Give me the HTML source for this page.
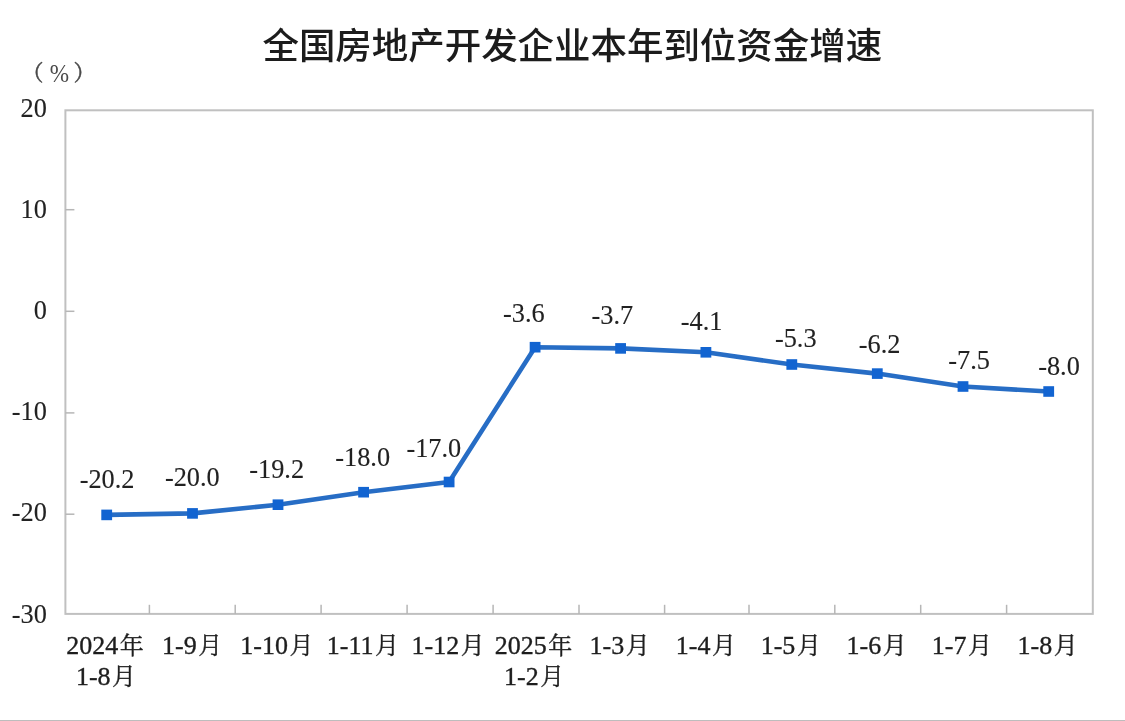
<!DOCTYPE html>
<html lang="zh-CN">
<head>
<meta charset="utf-8">
<title>全国房地产开发企业本年到位资金增速</title>
<style>
  html, body { margin: 0; padding: 0; background: #ffffff; }
  body { width: 1125px; height: 721px; overflow: hidden; position: relative; }
  svg { position: absolute; left: 0; top: 0; display: block; filter: blur(0.35px); }
  .title { font-family: "Liberation Sans", "Noto Sans CJK SC", sans-serif; font-size: 36.46px; font-weight: 500; fill: #1c1c1c; }
  .num { font-family: "Liberation Serif", "Noto Serif CJK SC", serif; font-size: 26.3px; fill: #222222; stroke: #222222; stroke-width: 0.12px; }
  .cat { font-family: "Liberation Serif", "Noto Serif CJK SC", serif; font-size: 26px; fill: #1e1e1e; }
  .cat { stroke: #1e1e1e; stroke-width: 0.35px; }
  .cj { font-size: 24px; }
  .unit { font-family: "Liberation Serif", "Noto Serif CJK SC", serif; font-size: 22px; fill: #4a4a4a; }
  .pct { font-family: "Liberation Serif", serif; font-size: 23.2px; }
  .par { stroke: #4a4a4a; stroke-width: 0.5px; }
  .axis { stroke: #c0c0c0; stroke-width: 2; fill: none; }
  .tick { stroke: #b6b6b6; stroke-width: 1.5; fill: none; }
  .bottombar { position: absolute; left: 0; top: 720px; width: 1125px; height: 1px; background: #bdbdbd; }
</style>
</head>
<body>
<svg width="1125" height="721" viewBox="0 0 1125 721">
  <rect x="0" y="0" width="1125" height="721" fill="#ffffff"/>

  <!-- title -->
  <text class="title" x="572.3" y="59.3" text-anchor="middle">全国房地产开发企业本年到位资金增速</text>

  <!-- unit -->
  <text class="unit par" x="32.4" y="79.7" text-anchor="middle">（</text>
  <text class="unit pct" transform="translate(59.3 81.9) scale(1 1.13)" text-anchor="middle">%</text>
  <text class="unit par" x="84.5" y="79.7" text-anchor="middle">）</text>

  <!-- plot frame -->
  <rect class="axis" x="65.4" y="110.3" width="1027.4" height="503.6"/>

  <!-- y ticks -->
  <g class="tick">
    <line x1="65.4" y1="209.7" x2="74.4" y2="209.7"/>
    <line x1="65.4" y1="311.3" x2="74.4" y2="311.3"/>
    <line x1="65.4" y1="412.9" x2="74.4" y2="412.9"/>
    <line x1="65.4" y1="514.2" x2="74.4" y2="514.2"/>
  </g>
  <!-- x ticks -->
  <g class="tick">
    <line x1="149.4" y1="604.8" x2="149.4" y2="613.9"/>
    <line x1="235.2" y1="604.8" x2="235.2" y2="613.9"/>
    <line x1="321.1" y1="604.8" x2="321.1" y2="613.9"/>
    <line x1="407.1" y1="604.8" x2="407.1" y2="613.9"/>
    <line x1="493.1" y1="604.8" x2="493.1" y2="613.9"/>
    <line x1="579.0" y1="604.8" x2="579.0" y2="613.9"/>
    <line x1="664.6" y1="604.8" x2="664.6" y2="613.9"/>
    <line x1="749.0" y1="604.8" x2="749.0" y2="613.9"/>
    <line x1="834.8" y1="604.8" x2="834.8" y2="613.9"/>
    <line x1="920.7" y1="604.8" x2="920.7" y2="613.9"/>
    <line x1="1006.6" y1="604.8" x2="1006.6" y2="613.9"/>
  </g>

  <!-- y labels -->
  <g class="num" text-anchor="end">
    <text x="46.8" y="116.9">20</text>
    <text x="46.8" y="218.4">10</text>
    <text x="46.8" y="318.7">0</text>
    <text x="46.8" y="419.6">-10</text>
    <text x="46.8" y="521.3">-20</text>
    <text x="46.8" y="623.3">-30</text>
  </g>

  <!-- series line -->
  <polyline fill="none" stroke="#276dc5" stroke-width="4.6" stroke-linejoin="round" stroke-linecap="round"
    points="106.7,514.9 192.5,513.4 278,504.7 363.6,492.2 449.1,482 535.1,347.2 620.6,348.4 705.9,352.3 791.8,364.5 877.3,373.6 963,386.5 1048.7,391.5"/>
  <g fill="#1264d1">
    <rect x="101.3" y="509.6" width="10.8" height="10.6"/>
    <rect x="187.1" y="508.1" width="10.8" height="10.6"/>
    <rect x="272.6" y="499.4" width="10.8" height="10.6"/>
    <rect x="358.2" y="486.9" width="10.8" height="10.6"/>
    <rect x="443.7" y="476.7" width="10.8" height="10.6"/>
    <rect x="529.7" y="341.9" width="10.8" height="10.6"/>
    <rect x="615.2" y="343.1" width="10.8" height="10.6"/>
    <rect x="700.5" y="347.0" width="10.8" height="10.6"/>
    <rect x="786.4" y="359.2" width="10.8" height="10.6"/>
    <rect x="871.9" y="368.3" width="10.8" height="10.6"/>
    <rect x="957.6" y="381.2" width="10.8" height="10.6"/>
    <rect x="1043.3" y="386.2" width="10.8" height="10.6"/>
  </g>

  <!-- data labels -->
  <g class="num" text-anchor="middle">
    <text x="107.1" y="488.0">-20.2</text>
    <text x="192.3" y="486.2">-20.0</text>
    <text x="276.7" y="478.1">-19.2</text>
    <text x="362.7" y="466.2">-18.0</text>
    <text x="433.8" y="456.5">-17.0</text>
    <text x="523.9" y="321.9">-3.6</text>
    <text x="612.4" y="324.2">-3.7</text>
    <text x="701.6" y="329.7">-4.1</text>
    <text x="795.8" y="347.4">-5.3</text>
    <text x="879.6" y="353.2">-6.2</text>
    <text x="969.1" y="369.0">-7.5</text>
    <text x="1059.0" y="374.7">-8.0</text>
  </g>

  <!-- category labels -->
  <g class="cat" text-anchor="middle">
    <text x="104.9" y="653.8">2024<tspan class="cj" dx="1.5">年</tspan></text>
    <text x="106.0" y="685.0">1-8<tspan class="cj" dx="1.5">月</tspan></text>
    <text x="192.1" y="653.8">1-9<tspan class="cj" dx="1.5">月</tspan></text>
    <text x="276.9" y="653.8">1-10<tspan class="cj" dx="1.5">月</tspan></text>
    <text x="362.9" y="653.8">1-11<tspan class="cj" dx="1.5">月</tspan></text>
    <text x="448.1" y="653.8">1-12<tspan class="cj" dx="1.5">月</tspan></text>
    <text x="533.4" y="653.8">2025<tspan class="cj" dx="1.5">年</tspan></text>
    <text x="534.2" y="685.0">1-2<tspan class="cj" dx="1.5">月</tspan></text>
    <text x="619.7" y="653.8">1-3<tspan class="cj" dx="1.5">月</tspan></text>
    <text x="705.9" y="653.8">1-4<tspan class="cj" dx="1.5">月</tspan></text>
    <text x="790.8" y="653.8">1-5<tspan class="cj" dx="1.5">月</tspan></text>
    <text x="876.7" y="653.8">1-6<tspan class="cj" dx="1.5">月</tspan></text>
    <text x="961.9" y="653.8">1-7<tspan class="cj" dx="1.5">月</tspan></text>
    <text x="1047.6" y="653.8">1-8<tspan class="cj" dx="1.5">月</tspan></text>
  </g>
</svg>
<div class="bottombar"></div>
</body>
</html>
